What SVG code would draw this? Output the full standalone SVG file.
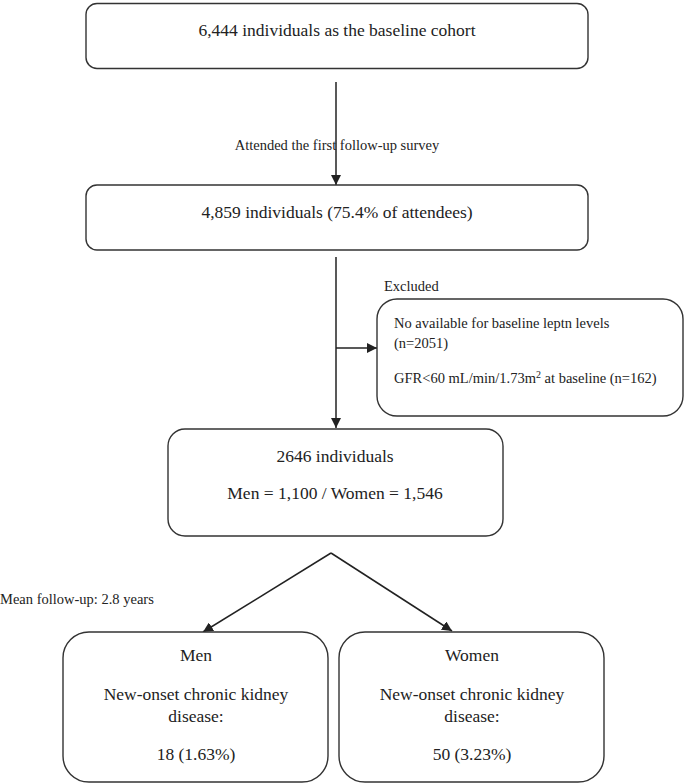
<svg xmlns="http://www.w3.org/2000/svg" width="685" height="783" viewBox="0 0 685 783" font-family="'Liberation Serif', 'DejaVu Serif', serif">
<style>
.box{fill:#fff;stroke:#333;stroke-width:1.4}
.t{font-family:'Liberation Serif','DejaVu Serif',serif;font-size:17.5px;fill:#222;text-anchor:middle}
.s{font-family:'Liberation Serif','DejaVu Serif',serif;font-size:14.5px;fill:#222}
.c{stroke:#222;stroke-width:1.5;fill:none}
</style>
<defs>
<marker id="ah" viewBox="0 0 10 10" refX="10" refY="5" markerWidth="10" markerHeight="10" markerUnits="userSpaceOnUse" orient="auto">
<path d="M0,0 L10,5 L0,10 z" fill="#222"/>
</marker>
</defs>
<rect width="685" height="783" fill="#fff"/>
<g id="connectors">
<line class="c" x1="336" y1="82" x2="336" y2="185" marker-end="url(#ah)"/>
<line class="c" x1="336" y1="257" x2="336" y2="428" marker-end="url(#ah)"/>
<line class="c" x1="336" y1="348" x2="377" y2="348" marker-end="url(#ah)"/>
<line class="c" x1="331" y1="553" x2="203" y2="632" marker-end="url(#ah)"/>
<line class="c" x1="331" y1="553" x2="452" y2="631" marker-end="url(#ah)"/>
</g>
<g id="label-attended"><text class="s" x="337" y="150" text-anchor="middle">Attended the first follow-up survey</text></g>
<g id="label-excluded"><text class="s" x="384" y="291">Excluded</text></g>
<g id="label-followup"><text class="s" x="0" y="604">Mean follow-up: 2.8 years</text></g>
<g id="n1">
<rect class="box" x="86" y="3.5" width="502" height="65" rx="11"/>
<text class="t" x="337" y="36">6,444 individuals as the baseline cohort</text>
</g>
<g id="n2">
<rect class="box" x="86" y="185" width="502" height="65" rx="11"/>
<text class="t" x="337" y="218">4,859 individuals (75.4% of attendees)</text>
</g>
<g id="n-excluded">
<rect class="box" x="377" y="299" width="306" height="117" rx="20"/>
<text class="s" x="394" y="328">No available for baseline leptn levels</text>
<text class="s" x="394" y="348">(n=2051)</text>
<text class="s" x="394" y="383">GFR&lt;60 mL/min/1.73m<tspan dy="-5" font-size="10px">2</tspan><tspan dy="5"> at baseline (n=162)</tspan></text>
</g>
<g id="n3">
<rect class="box" x="168" y="429" width="335" height="107" rx="17"/>
<text class="t" x="335" y="462">2646 individuals</text>
<text class="t" x="335" y="499">Men = 1,100 / Women = 1,546</text>
</g>
<g id="n-men">
<rect class="box" x="63" y="632" width="265" height="150" rx="26"/>
<text class="t" x="196" y="661">Men</text>
<text class="t" x="196" y="700">New-onset chronic kidney</text>
<text class="t" x="196" y="722">disease:</text>
<text class="t" x="196" y="760">18 (1.63%)</text>
</g>
<g id="n-women">
<rect class="box" x="339" y="632" width="265" height="150" rx="26"/>
<text class="t" x="472" y="661">Women</text>
<text class="t" x="472" y="700">New-onset chronic kidney</text>
<text class="t" x="472" y="722">disease:</text>
<text class="t" x="472" y="760">50 (3.23%)</text>
</g>
</svg>
